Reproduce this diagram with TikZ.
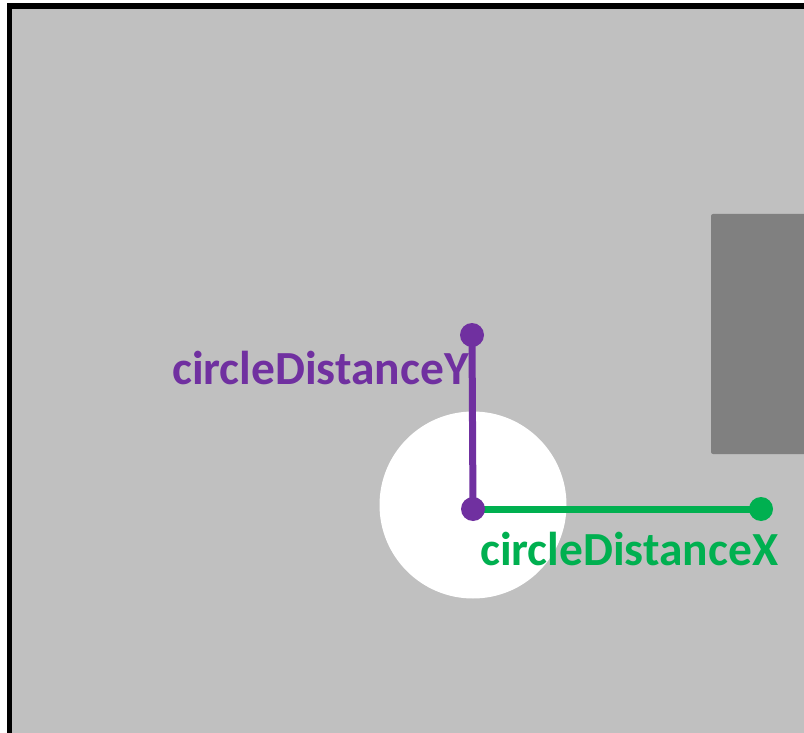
\documentclass[tikz,border=0pt]{standalone}
\usepackage{fontspec}
\setmainfont{Carlito}
\definecolor{bggray}{HTML}{C0C0C0}
\definecolor{boxgray}{HTML}{808080}
\definecolor{vpurple}{HTML}{7030A0}
\definecolor{vgreen}{HTML}{00B050}
\tikzset{
  dot/.style={circle,inner sep=0pt,minimum size=24pt,fill=#1},
  distline/.style={line width=7pt,draw=#1},
  distlabel/.style={text=#1,font=\fontsize{47.5pt}{52pt}\selectfont\bfseries,inner sep=0pt,anchor=base west}
}
\begin{document}
\begin{tikzpicture}[x=1pt,y=-1pt]
\useasboundingbox (0,0) rectangle (804,733);
\fill[white] (0,0) rectangle (804,733);
\draw[line width=5.5pt,fill=bggray] (9.5,6) rectangle (815,735.5);
\fill[boxgray,rounded corners=2pt] (711,214) rectangle (812,454);
\node[circle,fill=white,minimum size=187pt,inner sep=0pt] (ball) at (473,505) {};
\node[dot=vgreen] (xend) at (761,509) {};
\node[dot=vpurple] (yend) at (472,335) {};
\coordinate (origin) at (473,509);
\draw[distline=vgreen] (origin) -- (xend.center);
\draw[distline=vpurple] (origin) -- (yend.center);
\node[dot=vpurple] (center) at (origin) {};
\node[distlabel=vpurple] (ylabel) at (172,384) {circleDistanceY};
\node[distlabel=vgreen] (xlabel) at (480,565) {circleDistanceX};
\end{tikzpicture}
\end{document}
